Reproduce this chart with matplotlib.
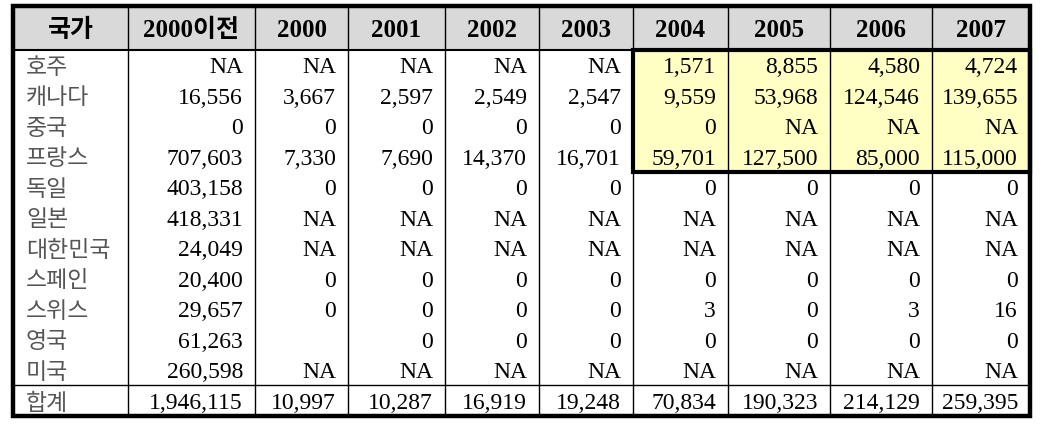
import numpy as np
import matplotlib
matplotlib.use("Agg")
import matplotlib.pyplot as plt
import matplotlib.patches as mp

FONT = ["Liberation Serif", "Noto Sans CJK KR"]
KFONT = ["Noto Sans CJK KR"]

# table data
header = ["국가", "2000이전", "2000", "2001", "2002", "2003", "2004", "2005", "2006", "2007"]
countries = ["호주", "캐나다", "중국", "프랑스", "독일", "일본", "대한민국", "스페인", "스위스", "영국", "미국"]
NA = None
BLANK = ""
values = [
    [NA, NA, NA, NA, NA, 1571, 8855, 4580, 4724],
    [16556, 3667, 2597, 2549, 2547, 9559, 53968, 124546, 139655],
    [0, 0, 0, 0, 0, 0, NA, NA, NA],
    [707603, 7330, 7690, 14370, 16701, 59701, 127500, 85000, 115000],
    [403158, 0, 0, 0, 0, 0, 0, 0, 0],
    [418331, NA, NA, NA, NA, NA, NA, NA, NA],
    [24049, NA, NA, NA, NA, NA, NA, NA, NA],
    [20400, 0, 0, 0, 0, 0, 0, 0, 0],
    [29657, 0, 0, 0, 0, 3, 0, 3, 16],
    [61263, BLANK, 0, 0, 0, 0, 0, 0, 0],
    [260598, NA, NA, NA, NA, NA, NA, NA, NA],
]
total_label = "합계"
totals = [1946115, 10997, 10287, 16919, 19248, 70834, 190323, 214129, 259395]

# layout in pixels
col_x = [13, 128, 255, 348, 445, 539, 633, 728, 830, 932, 1030]
top, head_bot = 6, 49.5
row_h = 30.5
sum_top = head_bot + row_h * len(countries)
bottom = 416
pad = 12
num_fs = 17
kor_fs = 16.5
cap = 0.33 * num_fs * 100 / 72      # half cap height, px
kmid = 0.38 * kor_fs * 100 / 72     # hangul visual centre above baseline, px


def fmt(v):
    if v is None:
        return "NA"
    if v == "":
        return ""
    return f"{v:,}"


fig = plt.figure(figsize=(10.46, 4.28), dpi=100)
ax = fig.add_axes([0, 0, 1, 1])
ax.set_xlim(0, 1046)
ax.set_ylim(428, 0)
ax.axis("off")

# header background
ax.add_patch(mp.Rectangle((col_x[0], top), col_x[-1] - col_x[0], head_bot - top,
                          facecolor="#D9D9D9", edgecolor="none", zorder=0))
# highlighted block (2004-2007, first 4 rows)
hl_y1 = head_bot + row_h * 4
ax.add_patch(mp.Rectangle((col_x[6], head_bot), col_x[-1] - col_x[6], hl_y1 - head_bot,
                          facecolor="#FFFFC4", edgecolor="none", zorder=0))

# grid lines
for x in col_x[1:-1]:
    ax.plot([x, x], [top, bottom], color="black", lw=1.0, zorder=2)
ax.plot([col_x[0], col_x[-1]], [head_bot, head_bot], color="black", lw=1.5, zorder=2)
ax.plot([col_x[0], col_x[-1]], [sum_top, sum_top], color="black", lw=1.0, zorder=2)
ax.add_patch(mp.Rectangle((col_x[6], head_bot), col_x[-1] - col_x[6], hl_y1 - head_bot,
                          fill=False, edgecolor="black", lw=3.0, zorder=3))
ax.add_patch(mp.Rectangle((col_x[0], top), col_x[-1] - col_x[0], bottom - top,
                          fill=False, edgecolor="black", lw=3.2, zorder=4))

# header text
for j, h in enumerate(header):
    cx = (col_x[j] + col_x[j + 1]) / 2
    ax.text(cx, 28.5 + 0.33 * 18 * 100 / 72, h, ha="center", va="baseline",
            fontsize=18, fontweight="bold", family=FONT)


def draw_row(label, row, cy):
    ax.text(col_x[0] + 13, cy + kmid, label, ha="left", va="baseline", fontsize=kor_fs,
            fontweight="light", color="#555555", family=KFONT)
    for j, v in enumerate(row):
        ax.text(col_x[j + 2] - pad, cy + cap, fmt(v), ha="right", va="baseline",
                fontsize=num_fs, family=FONT)


for i, c in enumerate(countries):
    draw_row(c, values[i], head_bot + row_h * (i + 0.5) + 0.5)

draw_row(total_label, totals, (sum_top + bottom) / 2 + 0.5)

fig.savefig("out.png", dpi=100)
plt.close(fig)
